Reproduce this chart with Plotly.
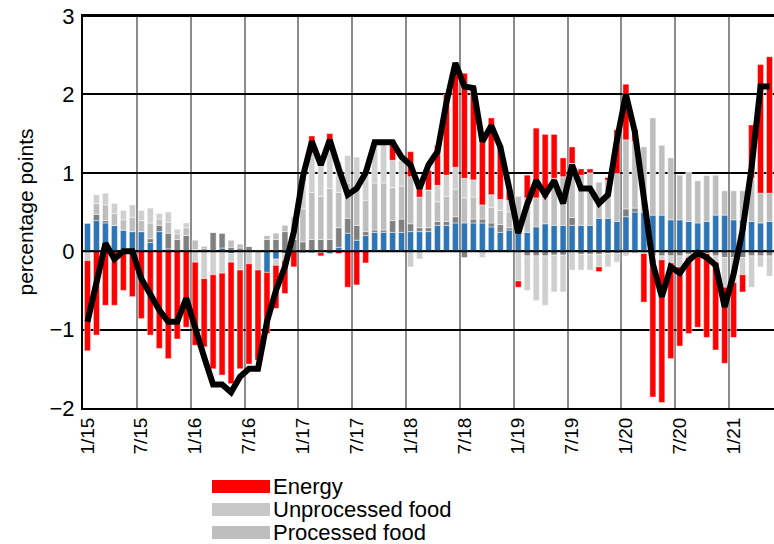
import pandas as pd
import plotly.graph_objects as go

# ---------------- data (monthly, Jan 2015 - May 2021) ----------------
months = pd.date_range("2015-01-01", periods=77, freq="MS")

tick_labels = ["1/15", "7/15", "1/16", "7/16", "1/17", "7/17", "1/18",
               "7/18", "1/19", "7/19", "1/20", "7/20", "1/21"]

# blue component (bottom of stack)
core = [0.36, 0.39, 0.36, 0.33, 0.27, 0.25, 0.25, 0.11, 0.25, 0.03, 0.00, 0.00,
        0.02, 0.00, 0.00, 0.04, -0.03, 0.00, 0.00, 0.00, -0.27, -0.10, -0.03, 0.00,
        -0.02, -0.02, -0.02, -0.03, 0.05, 0.23, 0.14, 0.20, 0.24, 0.24, 0.24, 0.24,
        0.25, 0.25, 0.25, 0.33, 0.33, 0.36, 0.36, 0.36, 0.36, 0.31, 0.24, 0.27,
        0.23, 0.24, 0.31, 0.35, 0.33, 0.33, 0.33, 0.33, 0.33, 0.42, 0.42, 0.38,
        0.44, 0.50, 0.50, 0.46, 0.46, 0.40, 0.40, 0.38, 0.36, 0.38, 0.46, 0.46,
        0.40, 0.40, 0.38, 0.36, 0.38]

# dark grey component
other = [0.00, 0.08, 0.03, 0.00, 0.00, 0.00, 0.00, 0.05, 0.08, 0.20, 0.15, 0.20,
         0.00, 0.03, 0.24, 0.19, 0.05, 0.04, 0.06, 0.02, 0.15, 0.15, 0.25, 0.15,
         0.12, 0.15, 0.15, 0.15, 0.25, 0.19, 0.19, 0.05, 0.03, 0.03, 0.15, 0.17,
         0.10, 0.05, 0.05, 0.05, 0.05, 0.08, -0.08, 0.05, 0.05, 0.05, 0.10, 0.03,
         0.02, -0.06, -0.06, -0.06, -0.05, -0.05, 0.10, -0.04, -0.04, -0.04, -0.03, -0.03,
         0.10, 0.05, 0.00, -0.06, -0.06, -0.06, -0.06, -0.04, -0.03, -0.03, -0.06, -0.08,
         -0.08, -0.08, -0.06, -0.06, -0.06]

processed_food = [0.00, 0.14, 0.20, 0.15, 0.13, 0.18, 0.14, 0.20, 0.08, 0.14, 0.07, 0.10,
                  0.12, 0.03, 0.00, 0.00, 0.09, 0.05, 0.00, 0.00, 0.05, 0.08, 0.08, 0.15,
                  0.42, 0.60, 0.55, 0.65, 0.45, 0.45, 0.47, 0.40, 0.60, 0.60, 0.42, 0.42,
                  0.60, 0.39, 0.48, 0.25, 0.32, 0.35, 0.32, 0.28, 0.18, 0.20, 0.18, 0.20,
                  0.45, 0.44, 0.37, 0.33, 0.60, 0.62, 0.69, 0.64, 0.67, 0.46, 0.48, 0.61,
                  0.88, 0.85, 0.83, 1.24, 0.89, 0.79, 0.57, 0.63, 0.54, 0.59, 0.51, 0.31,
                  0.37, 0.37, 0.55, 0.38, 0.36]

unprocessed_food = [-0.12, 0.11, 0.15, 0.13, 0.12, 0.16, 0.13, 0.19, 0.07, 0.13, 0.06, 0.06,
                    -0.14, -0.35, -0.30, -0.28, -0.11, -0.24, -0.16, -0.24, 0.00, -0.08, -0.09, 0.14,
                    0.35, 0.50, 0.43, 0.62, 0.39, 0.35, 0.40, 0.35, 0.53, 0.55, 0.35, 0.33,
                    -0.20, -0.10, 0.00, 0.21, 0.27, 0.28, 0.25, 0.22, -0.08, 0.16, 0.14, 0.15,
                    -0.38, -0.44, -0.57, -0.63, -0.47, -0.47, -0.24, -0.20, -0.20, -0.16, -0.17, -0.11,
                    -0.06, -0.03, -0.03, -0.05, -0.05, -0.09, -0.14, -0.04, 0.00, 0.00, -0.08, -0.38,
                    -0.32, -0.22, -0.40, -0.14, -0.26]

energy = [-1.15, -1.07, -0.69, -0.69, -0.50, -0.58, -0.86, -1.07, -1.24, -1.37, -1.12, -0.97,
          -1.06, -0.87, -1.20, -1.30, -1.55, -1.26, -1.28, -1.15, -0.78, -0.55, -0.42, -0.20,
          0.05, 0.22, -0.04, 0.08, -0.03, -0.46, -0.43, -0.15, 0.00, 0.00, 0.26, 0.00,
          0.32, 0.13, 0.25, 0.51, 1.03, 1.31, 1.34, 1.19, 0.90, 0.98, 0.69, 0.12,
          -0.08, 0.29, 0.89, 0.81, 0.56, 0.24, 0.21, 0.08, 0.05, -0.06, 0.04, 0.56,
          0.71, 0.15, -0.62, -1.75, -1.82, -1.22, -1.01, -0.97, -0.94, -1.07, -1.12, -0.97,
          -0.70, -0.22, 0.68, 1.64, 1.74]

headline = [-0.90, -0.40, 0.10, -0.10, 0.00, 0.00, -0.35, -0.55, -0.75, -0.90, -0.90, -0.60,
            -1.00, -1.35, -1.70, -1.70, -1.80, -1.60, -1.50, -1.50, -0.90, -0.50, -0.20, 0.25,
            0.95, 1.40, 1.10, 1.42, 1.05, 0.72, 0.80, 1.00, 1.39, 1.39, 1.39, 1.20,
            1.10, 0.80, 1.10, 1.27, 1.90, 2.40, 2.10, 2.08, 1.40, 1.60, 1.33, 0.80,
            0.23, 0.60, 0.90, 0.72, 0.90, 0.61, 1.10, 0.80, 0.80, 0.61, 0.72, 1.42,
            2.00, 1.52, 0.65, -0.16, -0.58, -0.20, -0.28, -0.12, -0.02, -0.08, -0.18, -0.71,
            -0.29, 0.27, 1.07, 2.10, 2.10]

# ---------------- figure ----------------
x = list(range(len(months)))
tick_idx = [i for i, m in enumerate(months) if m.month in (1, 7)]
grid_vals = [i - 0.5 for i in tick_idx[1:]]

FONT = "Liberation Sans, Arial, sans-serif"
SEP = dict(width=0.6, color="rgba(255,255,255,0.75)")

fig = go.Figure()
series = [
    ("Core", core, "#2E75B6"),
    ("Other", other, "#808080"),
    ("Processed food", processed_food, "#BEBEBE"),
    ("Unprocessed food", unprocessed_food, "#CFCFCF"),
    ("Energy", energy, "#FF0000"),
]
for name, vals, col in series:
    fig.add_trace(go.Bar(x=x, y=vals, name=name, marker=dict(color=col, line=SEP),
                         showlegend=False))

fig.add_trace(go.Scatter(x=x, y=headline, mode="lines", name="Headline",
                         line=dict(color="black", width=6), showlegend=False))

fig.update_layout(
    width=774, height=544,
    margin=dict(l=83, r=0, t=16, b=136, autoexpand=False),
    paper_bgcolor="white", plot_bgcolor="white",
    barmode="relative", bargap=0.33,
    font=dict(family=FONT, color="black", size=20),
)

fig.update_xaxes(
    range=[-0.5, len(x) - 0.5], automargin=False,
    tickmode="array", tickvals=tick_idx, ticktext=tick_labels,
    tickangle=-90, tickfont=dict(size=19), ticks="",
    showgrid=False, zeroline=False,
    showline=True, linecolor="black", linewidth=2, mirror=True,
    minor=dict(tickmode="array", tickvals=grid_vals, showgrid=True,
               gridcolor="#8C8C8C", gridwidth=2, ticks=""),
)
fig.update_yaxes(
    range=[-2, 3], tickmode="linear", tick0=0, dtick=1, automargin=False,
    tickfont=dict(size=22), ticks="", ticklabelstandoff=2,
    ticklabeloverflow="allow",
    showgrid=True, gridcolor="black", gridwidth=2,
    zeroline=True, zerolinecolor="black", zerolinewidth=2,
    showline=True, linecolor="black", linewidth=2,
    title=dict(text="percentage points", font=dict(size=21), standoff=10),
)

# zero line and top border drawn above the bars
fig.add_hline(y=0, line=dict(color="black", width=2), layer="above")
fig.add_shape(type="line", xref="paper", yref="paper", x0=0, x1=1, y0=1, y1=1,
              line=dict(color="black", width=2), layer="above")

# legend (visible part)
legend_items = [("Energy", "#FF0000"), ("Unprocessed food", "#C8C8C8"),
                ("Processed food", "#BEBEBE")]
plot_w, plot_h = 691.0, 392.0
for k, (lbl, col) in enumerate(legend_items):
    top_px = 480 + 23 * k
    y0 = (408 - top_px) / plot_h
    y1 = (408 - (top_px + 13)) / plot_h
    fig.add_shape(type="rect", xref="paper", yref="paper",
                  x0=(212 - 83) / plot_w, x1=(270 - 83) / plot_w, y0=y1, y1=y0,
                  fillcolor=col, line=dict(width=0))
    fig.add_annotation(xref="paper", yref="paper", x=(271 - 83) / plot_w,
                       y=(408 - (top_px + 6.5)) / plot_h, text=lbl, showarrow=False,
                       xanchor="left", yanchor="middle",
                       font=dict(size=22, family=FONT, color="black"))

fig.write_html("out.html", config={"displayModeBar": False},
               post_script="document.body.style.margin='0';document.body.style.overflow='hidden';")
